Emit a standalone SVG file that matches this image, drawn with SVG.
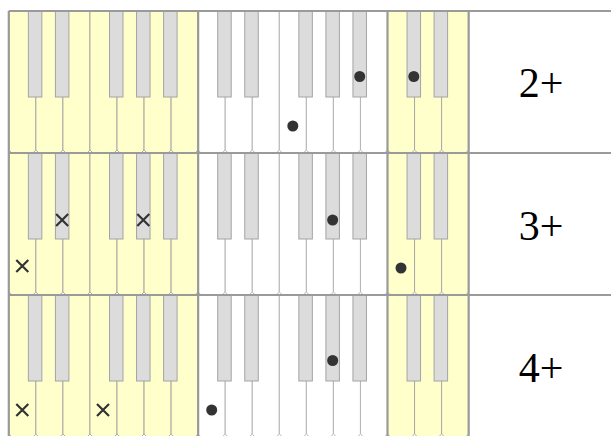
<svg xmlns="http://www.w3.org/2000/svg" width="611" height="436" viewBox="0 0 611 436">
<style>
.wy{fill:#ffffcc;stroke:#a8a8a8;stroke-width:1}
.ww{fill:#ffffff;stroke:#b4b4b4;stroke-width:1}
.bk{fill:#dcdcdc;stroke:#a4a4a4;stroke-width:1}
.grid{stroke:#9a9a9a;stroke-width:2.2;fill:none}
.dot{fill:#333333}
.x{stroke:#333333;stroke-width:2.2;fill:none}
.lbl{font-family:"Liberation Serif","Times New Roman",serif;font-size:42px;fill:#000;text-anchor:middle}
</style>
<defs>
<path id="wk" d="M0,0 H27.05 V139 L24,142 H3.05 L0,139 Z"/>
<rect id="bkr" width="13.5" height="86"/>
<path id="xm" d="M-6,-6 L6,6 M6,-6 L-6,6"/>
</defs>
<rect width="611" height="436" fill="#ffffff"/>

<g id="row1">
<g id="row1-left" class="wy">
<use href="#wk" x="8.8" y="11"/><use href="#wk" x="35.85" y="11"/><use href="#wk" x="62.9" y="11"/><use href="#wk" x="89.95" y="11"/><use href="#wk" x="117" y="11"/><use href="#wk" x="144.05" y="11"/><use href="#wk" x="171.1" y="11"/>
</g>
<g id="row1-mid" class="ww">
<use href="#wk" x="198.15" y="11"/><use href="#wk" x="225.2" y="11"/><use href="#wk" x="252.25" y="11"/><use href="#wk" x="279.3" y="11"/><use href="#wk" x="306.35" y="11"/><use href="#wk" x="333.4" y="11"/><use href="#wk" x="360.45" y="11"/>
</g>
<g id="row1-right" class="wy">
<use href="#wk" x="387.5" y="11"/><use href="#wk" x="414.55" y="11"/><use href="#wk" x="441.6" y="11"/>
</g>
<g id="row1-black" class="bk">
<use href="#bkr" x="28.35" y="11"/><use href="#bkr" x="55.4" y="11"/><use href="#bkr" x="109.5" y="11"/><use href="#bkr" x="136.55" y="11"/><use href="#bkr" x="163.6" y="11"/>
<use href="#bkr" x="217.7" y="11"/><use href="#bkr" x="244.75" y="11"/><use href="#bkr" x="298.85" y="11"/><use href="#bkr" x="325.9" y="11"/><use href="#bkr" x="352.95" y="11"/>
<use href="#bkr" x="407.05" y="11"/><use href="#bkr" x="434.1" y="11"/>
</g>
<g id="row1-marks">
<circle class="dot" cx="292.8" cy="126" r="5.5"/>
<circle class="dot" cx="359.7" cy="76.5" r="5.5"/>
<circle class="dot" cx="413.8" cy="76.5" r="5.5"/>
</g>
<text class="lbl" x="541" y="97">2+</text>
</g>

<g id="row2">
<g id="row2-left" class="wy">
<use href="#wk" x="8.8" y="153"/><use href="#wk" x="35.85" y="153"/><use href="#wk" x="62.9" y="153"/><use href="#wk" x="89.95" y="153"/><use href="#wk" x="117" y="153"/><use href="#wk" x="144.05" y="153"/><use href="#wk" x="171.1" y="153"/>
</g>
<g id="row2-mid" class="ww">
<use href="#wk" x="198.15" y="153"/><use href="#wk" x="225.2" y="153"/><use href="#wk" x="252.25" y="153"/><use href="#wk" x="279.3" y="153"/><use href="#wk" x="306.35" y="153"/><use href="#wk" x="333.4" y="153"/><use href="#wk" x="360.45" y="153"/>
</g>
<g id="row2-right" class="wy">
<use href="#wk" x="387.5" y="153"/><use href="#wk" x="414.55" y="153"/><use href="#wk" x="441.6" y="153"/>
</g>
<g id="row2-black" class="bk">
<use href="#bkr" x="28.35" y="153"/><use href="#bkr" x="55.4" y="153"/><use href="#bkr" x="109.5" y="153"/><use href="#bkr" x="136.55" y="153"/><use href="#bkr" x="163.6" y="153"/>
<use href="#bkr" x="217.7" y="153"/><use href="#bkr" x="244.75" y="153"/><use href="#bkr" x="298.85" y="153"/><use href="#bkr" x="325.9" y="153"/><use href="#bkr" x="352.95" y="153"/>
<use href="#bkr" x="407.05" y="153"/><use href="#bkr" x="434.1" y="153"/>
</g>
<g id="row2-marks">
<use href="#xm" class="x" x="62.15" y="220"/>
<use href="#xm" class="x" x="143.3" y="220"/>
<use href="#xm" class="x" x="22.3" y="266"/>
<circle class="dot" cx="332.65" cy="220" r="5.5"/>
<circle class="dot" cx="401" cy="268" r="5.5"/>
</g>
<text class="lbl" x="541" y="239.5">3+</text>
</g>

<g id="row3">
<g id="row3-left" class="wy">
<use href="#wk" x="8.8" y="295"/><use href="#wk" x="35.85" y="295"/><use href="#wk" x="62.9" y="295"/><use href="#wk" x="89.95" y="295"/><use href="#wk" x="117" y="295"/><use href="#wk" x="144.05" y="295"/><use href="#wk" x="171.1" y="295"/>
</g>
<g id="row3-mid" class="ww">
<use href="#wk" x="198.15" y="295"/><use href="#wk" x="225.2" y="295"/><use href="#wk" x="252.25" y="295"/><use href="#wk" x="279.3" y="295"/><use href="#wk" x="306.35" y="295"/><use href="#wk" x="333.4" y="295"/><use href="#wk" x="360.45" y="295"/>
</g>
<g id="row3-right" class="wy">
<use href="#wk" x="387.5" y="295"/><use href="#wk" x="414.55" y="295"/><use href="#wk" x="441.6" y="295"/>
</g>
<g id="row3-black" class="bk">
<use href="#bkr" x="28.35" y="295"/><use href="#bkr" x="55.4" y="295"/><use href="#bkr" x="109.5" y="295"/><use href="#bkr" x="136.55" y="295"/><use href="#bkr" x="163.6" y="295"/>
<use href="#bkr" x="217.7" y="295"/><use href="#bkr" x="244.75" y="295"/><use href="#bkr" x="298.85" y="295"/><use href="#bkr" x="325.9" y="295"/><use href="#bkr" x="352.95" y="295"/>
<use href="#bkr" x="407.05" y="295"/><use href="#bkr" x="434.1" y="295"/>
</g>
<g id="row3-marks">
<use href="#xm" class="x" x="22.3" y="410"/>
<use href="#xm" class="x" x="103" y="410"/>
<circle class="dot" cx="211.7" cy="410" r="5.5"/>
<circle class="dot" cx="332.65" cy="360.5" r="5.5"/>
</g>
<text class="lbl" x="541" y="381.5">4+</text>
</g>

<g id="grid" class="grid">
<path d="M8.8,11 H611 M8.8,153 H611 M8.8,295 H611 M8.8,437 H611"/>
<path d="M8.8,11 V437 M198.15,11 V437 M387.5,11 V437 M468.65,11 V437"/>
</g>
<g id="connectors"/>
</svg>
